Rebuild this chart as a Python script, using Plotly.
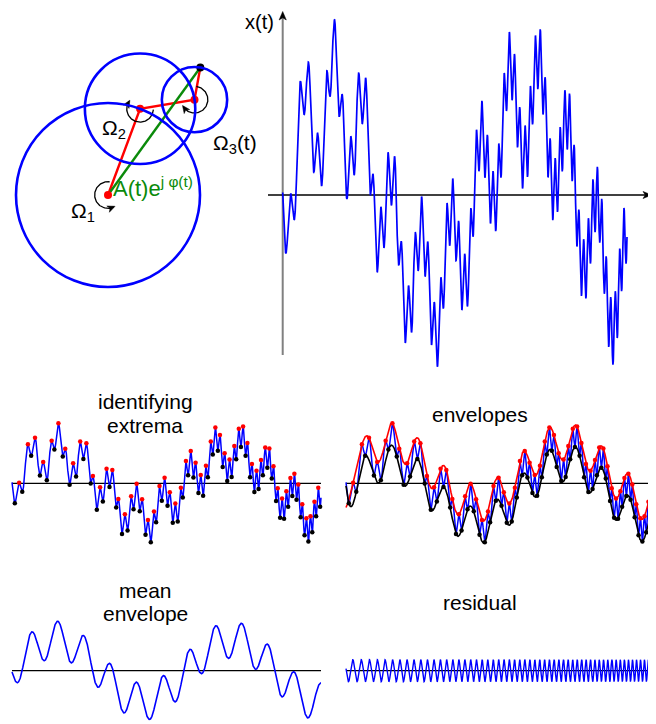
import numpy as np
import plotly.graph_objects as go

# page is shown with the default 8px body margin -> figure is 648x716, coordinates given in page pixels
OFF = 8
PW, PH = 656, 724
FW, FH = PW - OFF, PH - OFF

# ---------------- data ----------------
# x(t) = slow tone + medium tone + fast chirp   (amplitudes in units of the slow tone)
amplitudes = [1.0, 0.60, 0.355]           # slow, medium, fast
tone_freqs = [1.762, 11.75]               # cycles over the plotted interval
tone_crest_times = [0.1413, 0.0628]       # time of one crest of each tone
chirp_start_freq = 35.0                   # cycles / interval at t = 0
chirp_freq_slope = 45.0                   # frequency increase over the interval
chirp_phase0 = -0.78                      # phase at t = 0 (cycles)

# circle (phasor) diagram
phasor_angles_deg = [69.6, 9.5, 79.8]
rotation_arcs_deg = [(83, 296), (-4, -214), (82, -148)]
rotation_arc_radius = 0.145

panel_titles = {"ext": ["identifying", "extrema"], "env": ["envelopes"],
                "mean": ["mean", "envelope"], "res": ["residual"]}

BLUE, RED, GREEN, BLACK, GRAY = "#0000ff", "#ff0000", "#0a8a0a", "#000000", "#808080"
FONT = "Liberation Sans, Arial, sans-serif"

# ---------------- signal ----------------
t = np.linspace(0.0, 1.0, 6001)
slow = amplitudes[0] * np.cos(2 * np.pi * tone_freqs[0] * (t - tone_crest_times[0]))
med = amplitudes[1] * np.cos(2 * np.pi * tone_freqs[1] * (t - tone_crest_times[1]))
fast = amplitudes[2] * np.cos(2 * np.pi * (chirp_start_freq * t + 0.5 * chirp_freq_slope * t ** 2 + chirp_phase0))
x = slow + med + fast
mean_env = slow + med

imax = np.where((x[1:-1] > x[:-2]) & (x[1:-1] >= x[2:]))[0] + 1
imin = np.where((x[1:-1] < x[:-2]) & (x[1:-1] <= x[2:]))[0] + 1


def spline(xk, yk, xq):
    """not-a-knot cubic spline, extrapolating with end pieces"""
    n = len(xk)
    h = np.diff(xk)
    A = np.zeros((n, n))
    b = np.zeros(n)
    for i in range(1, n - 1):
        A[i, i - 1] = h[i - 1]
        A[i, i] = 2 * (h[i - 1] + h[i])
        A[i, i + 1] = h[i]
        b[i] = 6 * ((yk[i + 1] - yk[i]) / h[i] - (yk[i] - yk[i - 1]) / h[i - 1])
    A[0, 0], A[0, 1], A[0, 2] = h[1], -(h[0] + h[1]), h[0]
    A[-1, -3], A[-1, -2], A[-1, -1] = h[-1], -(h[-2] + h[-1]), h[-2]
    M = np.linalg.solve(A, b)
    i = np.clip(np.searchsorted(xk, xq) - 1, 0, n - 2)
    x0, x1, hh = xk[i], xk[i + 1], h[i]
    return (M[i] * (x1 - xq) ** 3 / (6 * hh) + M[i + 1] * (xq - x0) ** 3 / (6 * hh)
            + (yk[i] / hh - M[i] * hh / 6) * (x1 - xq) + (yk[i + 1] / hh - M[i + 1] * hh / 6) * (xq - x0))


upper = spline(t[imax], x[imax], t)
lower = spline(t[imin], x[imin], t)

# ---------------- panel geometry (page pixels) ----------------
panels = {
    "ph":   dict(xd=(8, 270),   yd=(30, 300),  ox=108.0, sx=92.0,  oy=195.0, sy=92.0),
    "main": dict(xd=(262, 656), yd=(8, 380),   ox=282.7, sx=344.3, oy=195.0, sy=90.5),
    "ext":  dict(xd=(8, 330),   yd=(380, 570), ox=12.0,  sx=309.0, oy=483.3, sy=31.0),
    "env":  dict(xd=(330, 656), yd=(380, 570), ox=346.0, sx=309.0, oy=483.3, sy=31.0),
    "mean": dict(xd=(8, 330),   yd=(572, 724), ox=12.0,  sx=309.0, oy=670.7, sy=31.0),
    "res":  dict(xd=(330, 656), yd=(572, 724), ox=346.0, sx=309.0, oy=670.7, sy=31.0),
}
axname = {"ph": "", "main": "2", "ext": "3", "env": "4", "mean": "5", "res": "6"}

fig = go.Figure()
layout_axes = {}
for key, p in panels.items():
    n = axname[key]
    xr = [(p["xd"][0] - p["ox"]) / p["sx"], (p["xd"][1] - p["ox"]) / p["sx"]]
    yr = [(p["oy"] - p["yd"][1]) / p["sy"], (p["oy"] - p["yd"][0]) / p["sy"]]
    common = dict(visible=False, fixedrange=True, showgrid=False, zeroline=False)
    layout_axes["xaxis" + n] = dict(domain=[(p["xd"][0] - OFF) / FW, (p["xd"][1] - OFF) / FW], range=xr,
                                    anchor="y" + n, **common)
    layout_axes["yaxis" + n] = dict(domain=[1 - (p["yd"][1] - OFF) / FH, 1 - (p["yd"][0] - OFF) / FH], range=yr,
                                    anchor="x" + n, **common)


def ax(key):
    n = axname[key]
    return dict(xaxis="x" + n, yaxis="y" + n)


def ref(key):
    n = axname[key]
    return "x" + n, "y" + n


def val_x(key, px):
    p = panels[key]
    return (px - p["ox"]) / p["sx"]


def val_y(key, py):
    p = panels[key]
    return (p["oy"] - py) / p["sy"]


def arrowhead(key, tx, ty, heading_deg, length=8.5, halfw=3.6, notch=2.2, color=BLACK):
    p = panels[key]
    h = np.radians(heading_deg)
    d = np.array([np.cos(h), np.sin(h)])
    nrm = np.array([-np.sin(h), np.cos(h)])
    offs = [np.zeros(2), -length * d + halfw * nrm, -(length - notch) * d, -length * d - halfw * nrm, np.zeros(2)]
    fig.add_trace(go.Scatter(x=[tx + o[0] / p["sx"] for o in offs], y=[ty + o[1] / p["sy"] for o in offs],
                             mode="lines", fill="toself", fillcolor=color, line=dict(color=color, width=0.5),
                             hoverinfo="skip", **ax(key)))


shapes = []
annotations = []

# ---------------- phasor diagram ----------------
ang = np.radians(phasor_angles_deg)
cx = [0.0]
cy = [0.0]
for a, r in zip(ang, amplitudes):
    cx.append(cx[-1] + r * np.cos(a))
    cy.append(cy[-1] + r * np.sin(a))
for i, r in enumerate(amplitudes):
    shapes.append(dict(type="circle", xref="x", yref="y", x0=cx[i] - r, x1=cx[i] + r,
                       y0=cy[i] - r, y1=cy[i] + r, line=dict(color=BLUE, width=2.6), layer="above"))
fig.add_trace(go.Scatter(x=cx, y=cy, mode="lines", line=dict(color=RED, width=2.4), **ax("ph")))
fig.add_trace(go.Scatter(x=[cx[0], cx[3]], y=[cy[0], cy[3]], mode="lines",
                         line=dict(color=GREEN, width=2.4), **ax("ph")))
fig.add_trace(go.Scatter(x=cx[:3], y=cy[:3], mode="markers",
                         marker=dict(color=RED, size=8), **ax("ph")))
fig.add_trace(go.Scatter(x=[cx[3]], y=[cy[3]], mode="markers",
                         marker=dict(color=BLACK, size=8), **ax("ph")))
for i, (a0, a1) in enumerate(rotation_arcs_deg):
    th = np.radians(np.linspace(a0, a1, 80))
    fig.add_trace(go.Scatter(x=cx[i] + rotation_arc_radius * np.cos(th),
                             y=cy[i] + rotation_arc_radius * np.sin(th), mode="lines",
                             line=dict(color=BLACK, width=1.3), **ax("ph")))
    sgn = np.sign(a1 - a0)
    te = np.radians(a1 + sgn * 6)
    arrowhead("ph", cx[i] + rotation_arc_radius * np.cos(te), cy[i] + rotation_arc_radius * np.sin(te),
              a1 + sgn * 6 + sgn * 90 - sgn * 10, length=7.5, halfw=3.4, notch=2.0)

# ---------------- main x(t) plot ----------------
xm, ym = ref("main")
shapes.append(dict(type="line", xref=xm, yref=ym, x0=0, x1=0, y0=val_y("main", 355), y1=val_y("main", 18),
                   line=dict(color=GRAY, width=2), layer="below"))
shapes.append(dict(type="line", xref=xm, yref=ym, x0=val_x("main", 268), x1=val_x("main", 645), y0=0, y1=0,
                   line=dict(color=BLACK, width=1.3), layer="below"))
arrowhead("main", val_x("main", 651.5), 0, 0)
arrowhead("main", 0, val_y("main", 11.5), 90)
fig.add_trace(go.Scatter(x=t, y=x, mode="lines", line=dict(color=BLUE, width=1.7), **ax("main")))

# ---------------- bottom panels ----------------
for key in ["ext", "env", "mean", "res"]:
    xr_, yr_ = ref(key)
    shapes.append(dict(type="line", xref=xr_, yref=yr_, x0=0, x1=1, y0=0, y1=0,
                       line=dict(color=BLACK, width=1.3), layer="below"))

fig.add_trace(go.Scatter(x=t, y=x, mode="lines", line=dict(color=BLUE, width=1.5), **ax("ext")))
fig.add_trace(go.Scatter(x=t[imax], y=x[imax], mode="markers", marker=dict(color=RED, size=4.5), **ax("ext")))
fig.add_trace(go.Scatter(x=t[imin], y=x[imin], mode="markers", marker=dict(color=BLACK, size=4.5), **ax("ext")))

fig.add_trace(go.Scatter(x=t, y=x, mode="lines", line=dict(color=BLUE, width=1.5), **ax("env")))
fig.add_trace(go.Scatter(x=t, y=upper, mode="lines", line=dict(color=RED, width=1.6), **ax("env")))
fig.add_trace(go.Scatter(x=t, y=lower, mode="lines", line=dict(color=BLACK, width=1.6), **ax("env")))
fig.add_trace(go.Scatter(x=t[imax], y=x[imax], mode="markers", marker=dict(color=RED, size=4.5), **ax("env")))
fig.add_trace(go.Scatter(x=t[imin], y=x[imin], mode="markers", marker=dict(color=BLACK, size=4.5), **ax("env")))

fig.add_trace(go.Scatter(x=t, y=mean_env, mode="lines", line=dict(color=BLUE, width=1.6), **ax("mean")))
fig.add_trace(go.Scatter(x=t, y=fast, mode="lines", line=dict(color=BLUE, width=1.4), **ax("res")))


# ---------------- text ----------------
def text(px, py, s, size=21, color=BLACK, xanchor="center", yanchor="middle"):
    annotations.append(dict(x=(px - OFF) / FW, y=1 - (py - OFF) / FH, xref="paper", yref="paper", text=s,
                            showarrow=False, xanchor=xanchor, yanchor=yanchor,
                            font=dict(family=FONT, size=size, color=color)))


text(145, 401, panel_titles["ext"][0])
text(145, 425.5, panel_titles["ext"][1])
text(480, 414, panel_titles["env"][0])
text(145, 590, panel_titles["mean"][0])
text(145, 613, panel_titles["mean"][1])
text(480, 602, panel_titles["res"][0])

text(276, 8.5, "x(t)", size=20, xanchor="right", yanchor="top")
text(649, 208, "t", size=20, xanchor="left")
text(69, 212, "Ω<sub>1</sub>", size=21, xanchor="left")
text(100, 129, "Ω<sub>2</sub>", size=21, xanchor="left")
text(211, 144, "Ω<sub>3</sub>(t)", size=21, xanchor="left")
text(111, 187, "A(t)e<sup>j φ(t)</sup>", size=22, color=GREEN, xanchor="left")

fig.update_layout(width=FW, height=FH, autosize=False, margin=dict(l=0, r=0, t=0, b=0),
                  paper_bgcolor="white", plot_bgcolor="white", showlegend=False,
                  shapes=shapes, annotations=annotations, **layout_axes)

fig.write_html("out.html")
